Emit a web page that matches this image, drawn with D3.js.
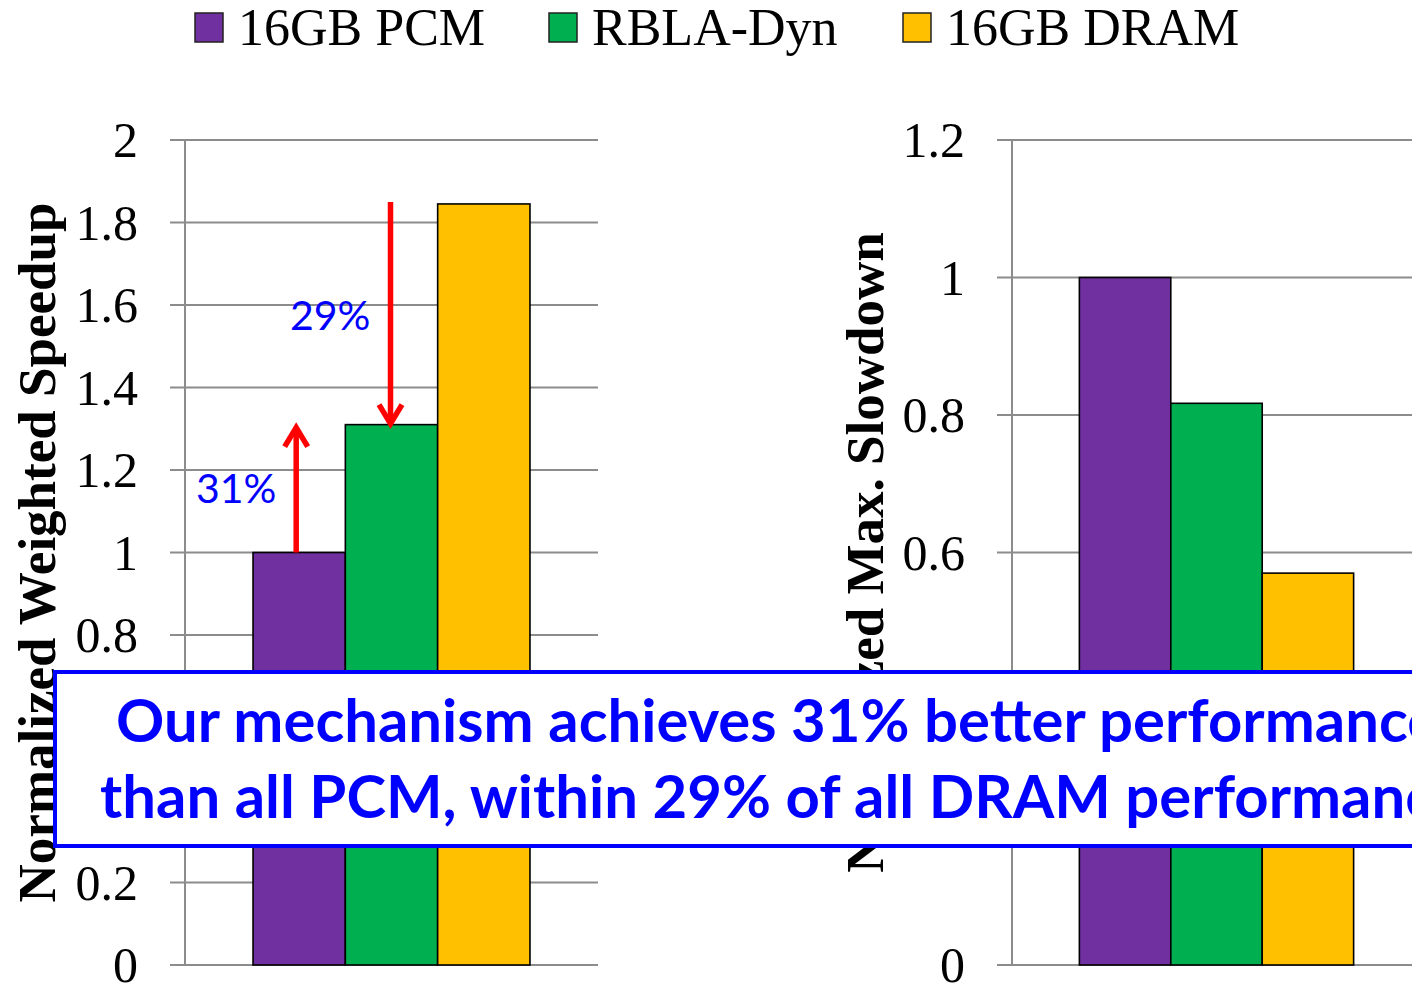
<!DOCTYPE html>
<html><head><meta charset="utf-8">
<script src="https://cdn.jsdelivr.net/npm/d3@7"></script>
<style>html,body{margin:0;padding:0;background:#fff;}svg{display:block;}</style>
</head><body>
<svg id="chart" width="1412" height="986"></svg>
<script>
// ---- data ----
const series = ["16GB PCM", "RBLA-Dyn", "16GB DRAM"];
const colors = ["#7030a0", "#00b050", "#ffc000"];
const speedupValues = [1.0, 1.31, 1.845];
const slowdownValues = [1.0, 0.817, 0.57];
const speedupTicks = [0, 0.2, 0.4, 0.6, 0.8, 1, 1.2, 1.4, 1.6, 1.8, 2];
const slowdownTicks = [0, 0.2, 0.4, 0.6, 0.8, 1, 1.2];
const speedupTickLabels = ["0", "0.2", "0.4", "0.6", "0.8", "1", "1.2", "1.4", "1.6", "1.8", "2"];
const slowdownTickLabels = ["0", "0.2", "0.4", "0.6", "0.8", "1", "1.2"];
const annotationLabels = ["31%", "29%"];
const boxLines = ["Our mechanism achieves 31% better performance", "than all PCM, within 29% of all DRAM performance."];

const svg = d3.select("#chart");
const serif = "'Liberation Serif','Times New Roman',serif";
const sans = "Lato,'Open Sans',sans-serif";

function panel(opt) {
  const g = svg.append("g");
  const y = d3.scaleLinear().domain([0, opt.max]).range([965, 140]);
  const x = d3.scaleBand().domain(series).range([opt.axisX, opt.endX]).paddingInner(0).paddingOuter(0.737);
  g.selectAll("line.grid").data(opt.ticks).join("line")
    .attr("x1", opt.axisX - 15).attr("x2", opt.endX)
    .attr("y1", d => y(d)).attr("y2", d => y(d))
    .attr("stroke", "#8c8c8c").attr("stroke-width", 2);
  g.append("line").attr("x1", opt.axisX).attr("x2", opt.axisX)
    .attr("y1", y(opt.max)).attr("y2", y(0))
    .attr("stroke", "#8c8c8c").attr("stroke-width", 2);
  g.selectAll("text.tick").data(opt.ticks).join("text")
    .attr("x", opt.axisX - 47).attr("y", d => y(d)).attr("dy", "0.34em")
    .attr("text-anchor", "end").attr("font-family", serif).attr("font-size", 50)
    .attr("fill", "#000").text((d, i) => opt.labels[i]);
  g.selectAll("rect.bar").data(opt.values).join("rect")
    .attr("x", (d, i) => x(series[i])).attr("width", x.bandwidth())
    .attr("y", d => y(d)).attr("height", d => y(0) - y(d))
    .attr("fill", (d, i) => colors[i]).attr("stroke", "#000").attr("stroke-width", 1.6);
  g.append("text")
    .attr("transform", `translate(${opt.titleX},${(y(0) + y(opt.max)) / 2}) rotate(-90)`)
    .attr("text-anchor", "middle").attr("font-family", serif).attr("font-weight", "bold")
    .attr("font-size", 53).attr("fill", "#000").text(opt.title);
  return {x, y, g};
}

const left = panel({max: 2, ticks: speedupTicks, labels: speedupTickLabels, values: speedupValues,
  axisX: 185, endX: 598, titleX: 55, title: "Normalized Weighted Speedup"});
const right = panel({max: 1.2, ticks: slowdownTicks, labels: slowdownTickLabels, values: slowdownValues,
  axisX: 1012, endX: 1421, titleX: 883, title: "Normalized Max. Slowdown"});

// arrows
function arrow(x, yFrom, yTo) {
  const dir = yTo < yFrom ? 1 : -1; // 1 = up
  const g = svg.append("g").attr("stroke", "#ff0000").attr("stroke-width", 5.5).attr("fill", "none");
  g.append("line").attr("x1", x).attr("x2", x).attr("y1", yFrom).attr("y2", yTo + dir * 4);
  g.append("path").attr("d", `M${x - 11.5},${yTo + dir * 22} L${x},${yTo + dir * 3} L${x + 11.5},${yTo + dir * 22}`)
    .attr("stroke-linejoin", "miter");
}
const lx = left.x, ly = left.y;
arrow(lx(series[0]) + lx.bandwidth() / 2 - 3, ly(speedupValues[0]), ly(speedupValues[1]));
arrow(lx(series[1]) + lx.bandwidth() / 2 - 1, ly(speedupValues[2]) - 2, ly(speedupValues[1]) + 2);

svg.append("text").attr("x", 196).attr("y", 503).attr("font-family", sans).attr("font-size", 41)
  .attr("fill", "#0000ff").text(annotationLabels[0]);
svg.append("text").attr("x", 290).attr("y", 330).attr("font-family", sans).attr("font-size", 41)
  .attr("fill", "#0000ff").text(annotationLabels[1]);

// legend
const legX = [195, 549, 903];
const leg = svg.append("g");
series.forEach((s, i) => {
  leg.append("rect").attr("x", legX[i]).attr("y", 13).attr("width", 28).attr("height", 29)
    .attr("fill", colors[i]).attr("stroke", "#222").attr("stroke-width", 1.5);
  leg.append("text").attr("x", legX[i] + 43).attr("y", 45).attr("font-family", serif)
    .attr("font-size", 52).attr("fill", "#000").text(s);
});

// callout box
svg.append("rect").attr("x", 55).attr("y", 672).attr("width", 1420).attr("height", 174)
  .attr("fill", "#fff").attr("stroke", "#0000ff").attr("stroke-width", 4);
// fit font size so that "...performanc" of line 1 ends near the right edge like the reference
const probe = svg.append("text").attr("font-family", sans).attr("font-weight", "bold").attr("font-size", 56)
  .text(boxLines[0].slice(0, -1));
const w56 = probe.node().getComputedTextLength();
probe.remove();
const boxFont = Math.max(50, Math.min(64, 56 * (1408 - 116) / w56));
svg.append("text").attr("x", 116).attr("y", 742).attr("font-family", sans).attr("font-weight", "bold")
  .attr("font-size", boxFont).attr("fill", "#0000ff").text(boxLines[0]);
svg.append("text").attr("x", 100).attr("y", 818).attr("font-family", sans).attr("font-weight", "bold")
  .attr("font-size", boxFont).attr("fill", "#0000ff").text(boxLines[1]);
</script>
</body></html>
